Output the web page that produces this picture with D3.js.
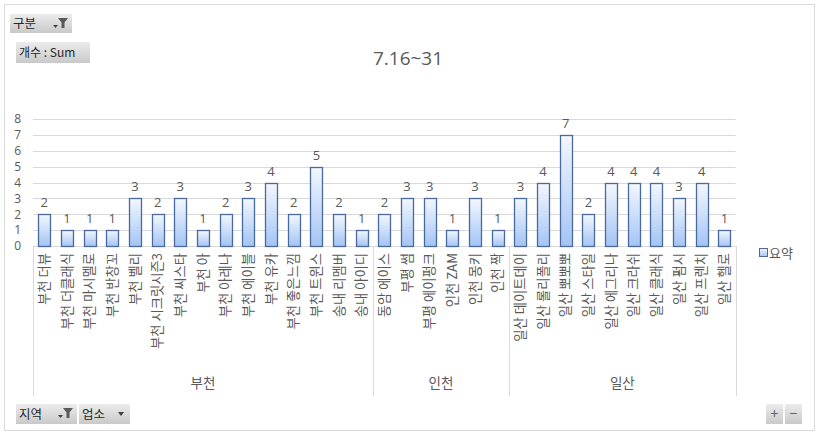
<!DOCTYPE html>
<html><head><meta charset="utf-8">
<script src="https://cdn.jsdelivr.net/npm/d3@7/dist/d3.min.js"></script>
<style>
html,body{margin:0;padding:0;background:#fff;}
svg{display:block;font-family:"Noto Sans CJK KR","Noto Sans",sans-serif;}
</style></head>
<body><svg id="c" width="820" height="436"></svg>
<script>
const title = "7.16~31";
const categories = ["부천 더뷰","부천 더클래식","부천 마시멜로","부천 반창꼬","부천 벨리","부천 시크릿시즌3","부천 씨스타","부천 아","부천 아레나","부천 에이블","부천 유카","부천 좋은느낌","부천 트윈스","송내 리멤버","송내 아이디",
"동암 에이스","부평 썸","부평 에이펑크","인천 ZAM","인천 몽키","인천 짝",
"일산 데이트데이","일산 롤리폴리","일산 뽀뽀뽀","일산 스타일","일산 에그리나","일산 크라쉬","일산 클래식","일산 펌시","일산 프렌치","일산 헬로"];
const values = [2,1,1,1,3,2,3,1,2,3,4,2,5,2,1, 2,3,3,1,3,1, 3,4,7,2,4,4,4,3,4,1];
const groups = ["부천","인천","일산"];
const groupSizes = [15,6,10];
const yTicks = [0,1,2,3,4,5,6,7,8];
const seriesName = "요약";

const svg = d3.select("#c");
const txt = "#595959", grid = "#d9d9d9";
const numFont = "'Open Sans','Noto Sans',sans-serif";
const defs = svg.append("defs");
const g1 = defs.append("linearGradient").attr("id","barG").attr("x1",0).attr("y1",0).attr("x2",0).attr("y2",1);
g1.append("stop").attr("offset","0%").attr("stop-color","#f3f7fe");
g1.append("stop").attr("offset","100%").attr("stop-color","#a3c4f5");
const g2 = defs.append("linearGradient").attr("id","btnG").attr("x1",0).attr("y1",0).attr("x2",0).attr("y2",1);
g2.append("stop").attr("offset","0%").attr("stop-color","#ececec");
g2.append("stop").attr("offset","100%").attr("stop-color","#c9c9c9");

// outer border
svg.append("rect").attr("x",4.5).attr("y",4.5).attr("width",810).attr("height",426)
  .attr("fill","#fff").attr("stroke","#d9d9d9");

const x = d3.scaleBand().domain(categories).range([33,735.7]).paddingInner(0.47).paddingOuter(0.235);
const y = d3.scaleLinear().domain([0,8]).range([246,119]);

// gridlines
svg.append("g").selectAll("line").data(yTicks).join("line")
  .attr("x1",33).attr("x2",735.7).attr("y1",d=>Math.round(y(d))+0.5).attr("y2",d=>Math.round(y(d))+0.5)
  .attr("stroke",grid).attr("stroke-width",1);

// y labels
const yAxis = d3.axisLeft(y).tickValues(yTicks).tickSize(0).tickPadding(0);
const ya = svg.append("g").attr("transform","translate(21,0)").call(yAxis);
ya.select(".domain").remove();
ya.selectAll("text").attr("fill",txt).attr("font-size",12).attr("font-family",numFont);

// bars
svg.append("g").selectAll("rect").data(categories).join("rect")
  .attr("x",d=>Math.round(x(d))+0.5).attr("width",Math.round(x.bandwidth()))
  .attr("y",(d,i)=>Math.round(y(values[i]))+0.5).attr("height",(d,i)=>Math.round(y(0))-Math.round(y(values[i])))
  .attr("fill","url(#barG)").attr("stroke","#4a6a9c").attr("stroke-width",1.3);

// value labels
svg.append("g").selectAll("text").data(categories).join("text")
  .attr("x",d=>x(d)+x.bandwidth()/2).attr("y",(d,i)=>y(values[i])-7)
  .attr("text-anchor","middle").attr("fill",txt).attr("font-size",13)
  .attr("font-family",numFont)
  .text((d,i)=>values[i]);

// category labels
svg.append("g").selectAll("text").data(categories).join("text")
  .attr("transform",d=>`translate(${x(d)+x.bandwidth()/2},253) rotate(-90)`)
  .attr("text-anchor","end").attr("dy","0.36em").attr("fill",txt).attr("font-size",13.3)
  .text(d=>d);

// group separators & labels
let bounds=[0]; groupSizes.forEach(s=>bounds.push(bounds[bounds.length-1]+s));
const step = x.step();
const bx = i => 33 + i*step;
svg.append("g").selectAll("line").data(bounds).join("line")
  .attr("x1",d=>Math.round(bx(d))+0.5).attr("x2",d=>Math.round(bx(d))+0.5)
  .attr("y1",246).attr("y2",396).attr("stroke",grid);
svg.append("g").selectAll("text").data(groups).join("text")
  .attr("x",(d,i)=>(bx(bounds[i])+bx(bounds[i+1]))/2).attr("y",388)
  .attr("text-anchor","middle").attr("fill",txt).attr("font-size",13.5).text(d=>d);

// title
svg.append("text").attr("x",408).attr("y",65).attr("text-anchor","middle")
  .attr("fill",txt).attr("font-size",19).attr("font-family",numFont).text(title);

// legend
svg.append("rect").attr("x",759.5).attr("y",248.5).attr("width",8).attr("height",8)
  .attr("fill","url(#barG)").attr("stroke","#4a6a9c");
svg.append("text").attr("x",769).attr("y",257.5).attr("fill",txt).attr("font-size",13).text(seriesName);

// buttons
function funnel(gx,gy){
  svg.append("path").attr("d",`M${gx},${gy} h10 l-3.5,4.5 v5.5 h-3 v-5.5 z`).attr("fill","#595959");
  svg.append("path").attr("d",`M${gx-5},${gy+7} h5 l-2.5,3 z`).attr("fill","#404040");
}
function button(bx0,by0,w,h,label,fs){
  svg.append("rect").attr("x",bx0).attr("y",by0).attr("width",w).attr("height",h).attr("fill","url(#btnG)");
  svg.append("text").attr("x",bx0+3).attr("y",by0+h/2).attr("dy","0.36em").attr("fill","#262626").attr("font-size",fs).text(label);
}
button(10,14,62,19,"구분",12.5);
funnel(58,18);
button(16,42,74,21,"개수 : Sum",12);
button(16,404,61,20,"지역",12.5);
funnel(63,408);
button(79,404,51,20,"업소",12.5);
svg.append("path").attr("d","M118,412 h6 l-3,4 z").attr("fill","#404040");
svg.append("rect").attr("x",766).attr("y",404).attr("width",17).attr("height",20).attr("fill","url(#btnG)");
svg.append("rect").attr("x",785).attr("y",404).attr("width",17).attr("height",20).attr("fill","url(#btnG)");
svg.append("text").attr("x",774.5).attr("y",414).attr("dy","0.36em").attr("text-anchor","middle").attr("fill","#666").attr("font-size",14).text("+");
svg.append("text").attr("x",793.5).attr("y",414).attr("dy","0.36em").attr("text-anchor","middle").attr("fill","#666").attr("font-size",14).text("−");
</script></body></html>
